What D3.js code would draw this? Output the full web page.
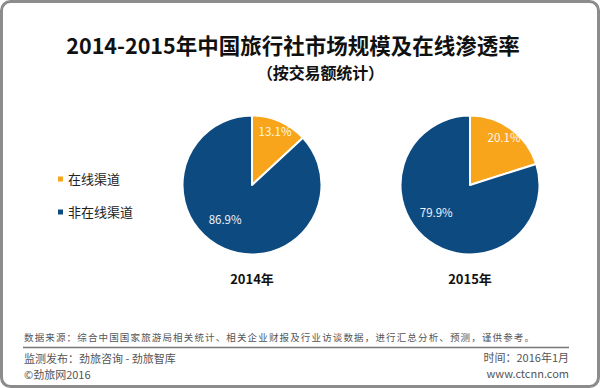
<!DOCTYPE html>
<html>
<head>
<meta charset="utf-8">
<script src="https://cdn.jsdelivr.net/npm/d3@7"></script>
<style>
  body { margin: 0; background: #fff; }
  svg { display: block; }
  text { font-family: "Noto Sans CJK SC", "DejaVu Sans", sans-serif; }
</style>
</head>
<body>
<div id="chart"></div>
<script>
// chart data
var years = ["2014年", "2015年"];
var channels = ["在线渠道", "非在线渠道"];
var share2014 = [13.1, 86.9];
var share2015 = [20.1, 79.9];
var shares = [share2014, share2015];

var width = 600, height = 388;
var colors = d3.scaleOrdinal().domain(channels).range(["#f8a51b", "#0d4a80"]);

const svg = d3.select("#chart").append("svg")
    .attr("width", width)
    .attr("height", height);

// frame
svg.append("rect")
    .attr("x", 1.5).attr("y", 1.5)
    .attr("width", width - 3).attr("height", height - 3)
    .attr("rx", 9)
    .attr("fill", "#fff")
    .attr("stroke", "#8c8c8c")
    .attr("stroke-width", 3);

// titles
svg.append("text")
    .attr("x", 293).attr("y", 54)
    .attr("text-anchor", "middle")
    .attr("font-size", 21.5).attr("font-weight", "bold")
    .attr("fill", "#111")
    .text("2014-2015年中国旅行社市场规模及在线渗透率");

svg.append("text")
    .attr("x", 257).attr("y", 79)
    .attr("font-size", 16).attr("font-weight", "bold")
    .attr("textLength", 127)
    .attr("fill", "#111")
    .text("（按交易额统计）");

// legend
var legend = svg.append("g").attr("class", "legend");
var ly = d3.scalePoint().domain(channels).range([179, 212]);
legend.selectAll("rect")
    .data(channels)
    .join("rect")
    .attr("x", 58).attr("y", d => ly(d) - 2.5)
    .attr("width", 5).attr("height", 5)
    .attr("fill", d => colors(d));
legend.selectAll("text")
    .data(channels)
    .join("text")
    .attr("x", 68).attr("y", d => ly(d) + 4.5)
    .attr("font-size", 13)
    .attr("fill", "#222")
    .text(d => d);

// pies
var cx = d3.scalePoint().domain(years).range([252, 470]);
var radius = 69.5, cy = 185;

var pie = d3.pie().sort(null).value(d => d.v);
var arc = d3.arc().innerRadius(0).outerRadius(radius);

years.forEach((yr, i) => {
    var data = channels.map((c, j) => ({c: c, v: shares[i][j]}));
    var g = svg.append("g")
        .attr("class", "pie")
        .attr("transform", `translate(${cx(yr)},${cy})`);

    var arcs = pie(data);

    g.selectAll("path")
        .data(arcs)
        .join("path")
        .attr("d", arc)
        .attr("fill", d => colors(d.data.c))
        .attr("stroke", "#fff")
        .attr("stroke-width", 2)
        .attr("stroke-linejoin", "round");

    // labels: small slice near the rim, big slice pulled round a bit like excel does
    g.selectAll("text.pct")
        .data(arcs)
        .join("text")
        .attr("class", "pct")
        .attr("transform", d => {
            var mid = (d.startAngle + d.endAngle) / 2;
            var big = d.index == 1;
            var a = big ? mid + 0.25 : mid;
            var r = big ? radius * 0.63 : radius * 0.83;
            return `translate(${r * Math.sin(a)},${-r * Math.cos(a)})`;
        })
        .attr("text-anchor", "middle")
        .attr("dy", "0.35em")
        .attr("font-family", "'DejaVu Sans', sans-serif")
        .attr("font-size", 11.5)
        .attr("fill", d => d.index == 0 ? "#fff8e8" : "#eef3fa")
        .text(d => d3.format(".1f")(d.data.v) + "%");

    svg.append("text")
        .attr("x", cx(yr)).attr("y", 284)
        .attr("text-anchor", "middle")
        .attr("font-size", 13).attr("font-weight", "bold")
        .attr("fill", "#111")
        .text(yr);
});

// footer
var foot = svg.append("g").attr("fill", "#555");
foot.append("text")
    .attr("x", 24).attr("y", 341)
    .attr("font-size", 9.5)
    .attr("textLength", 510)
    .text("数据来源：综合中国国家旅游局相关统计、相关企业财报及行业访谈数据，进行汇总分析、预测，谨供参考。");

svg.append("line")
    .attr("x1", 23).attr("x2", 569)
    .attr("y1", 347.5).attr("y2", 347.5)
    .attr("stroke", "#777").attr("stroke-width", 1.5);

foot.append("text")
    .attr("x", 24).attr("y", 363)
    .attr("font-size", 11)
    .text("监测发布：劲旅咨询 - 劲旅智库");
foot.append("text")
    .attr("x", 24).attr("y", 378.5)
    .attr("font-size", 11)
    .text("©劲旅网2016");
foot.append("text")
    .attr("x", 569).attr("y", 362)
    .attr("text-anchor", "end")
    .attr("font-size", 11)
    .text("时间：2016年1月");
foot.append("text")
    .attr("x", 569).attr("y", 378)
    .attr("text-anchor", "end")
    .attr("font-size", 11)
    .text("www.ctcnn.com");
</script>
</body>
</html>
